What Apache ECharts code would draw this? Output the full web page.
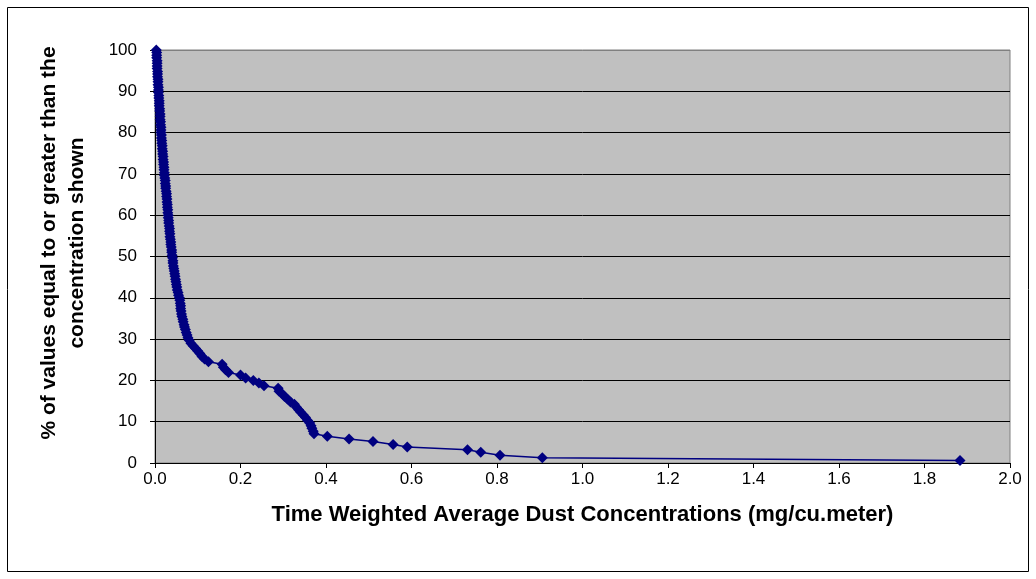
<!DOCTYPE html>
<html>
<head>
<meta charset="utf-8">
<script src="https://cdn.jsdelivr.net/npm/echarts@6/dist/echarts.min.js"></script>
<style>
html,body{margin:0;padding:0;background:#fff;}
#c{width:1036px;height:579px;}
</style>
</head>
<body>
<div id="c"></div>
<script>
// Concentration (mg/cu.meter), sorted ascending
var concentration = [
0.003,0.004,0.004,0.004,0.005,0.005,0.005,0.005,0.006,0.006,
0.006,0.007,0.007,0.007,0.008,0.008,0.008,0.009,0.009,0.010,
0.010,0.010,0.011,0.011,0.012,0.012,0.012,0.013,0.013,0.014,
0.014,0.014,0.015,0.015,0.016,0.016,0.017,0.017,0.018,0.018,
0.019,0.019,0.020,0.020,0.021,0.021,0.022,0.022,0.023,0.024,
0.024,0.025,0.025,0.026,0.027,0.027,0.028,0.028,0.029,0.029,
0.030,0.030,0.031,0.031,0.032,0.032,0.033,0.034,0.034,0.035,
0.035,0.036,0.037,0.037,0.038,0.039,0.039,0.040,0.041,0.042,
0.042,0.043,0.044,0.045,0.046,0.047,0.048,0.049,0.050,0.051,
0.052,0.054,0.055,0.057,0.058,0.059,0.060,0.060,0.061,0.062,
0.063,0.065,0.066,0.068,0.069,0.071,0.073,0.075,0.077,0.080,
0.084,0.089,0.095,0.100,0.105,0.110,0.116,0.125,0.157,0.160,
0.165,0.172,0.200,0.212,0.230,0.243,0.255,0.288,0.290,0.297,
0.303,0.310,0.317,0.326,0.331,0.336,0.341,0.347,0.352,0.357,
0.362,0.365,0.367,0.370,0.372,0.403,0.454,0.510,0.557,0.590,
0.731,0.762,0.807,0.906,1.883
];
// % of values equal to or greater than the concentration
var percentGE = [
100.0,99.4,98.7,98.1,97.4,96.8,96.1,95.5,94.8,94.2,
93.5,92.9,92.3,91.6,91.0,90.3,89.7,89.0,88.4,87.7,
87.1,86.5,85.8,85.2,84.5,83.9,83.2,82.6,81.9,81.3,
80.6,80.0,79.4,78.7,78.1,77.4,76.8,76.1,75.5,74.8,
74.2,73.5,72.9,72.3,71.6,71.0,70.3,69.7,69.0,68.4,
67.7,67.1,66.5,65.8,65.2,64.5,63.9,63.2,62.6,61.9,
61.3,60.6,60.0,59.4,58.7,58.1,57.4,56.8,56.1,55.5,
54.8,54.2,53.5,52.9,52.3,51.6,51.0,50.3,49.7,49.0,
48.4,47.7,47.1,46.5,45.8,45.2,44.5,43.9,43.2,42.6,
41.9,41.3,40.6,40.0,39.4,38.7,38.1,37.4,36.8,36.1,
35.5,34.8,34.2,33.5,32.9,32.3,31.6,31.0,30.3,29.7,
29.0,28.4,27.7,27.1,26.5,25.8,25.2,24.5,23.9,23.2,
22.6,21.9,21.3,20.6,20.0,19.4,18.7,18.1,17.4,16.8,
16.1,15.5,14.8,14.2,13.5,12.9,12.3,11.6,11.0,10.3,
9.7,9.0,8.4,7.7,7.1,6.5,5.8,5.2,4.5,3.9,
3.2,2.6,1.9,1.3,0.6
];
var xTitle = 'Time Weighted Average Dust Concentrations (mg/cu.meter)';
var yTitleLines = ['% of values equal to or greater than the', 'concentration shown'];

var points = concentration.map(function (c, i) { return [c, percentGE[i]]; });

var chart = echarts.init(document.getElementById('c'), null, {renderer: 'canvas'});
var font = 'Liberation Sans, Arial, sans-serif';
var gridColors = ['#000','#000','#000','#000','#000','#000','#000','#000','#000','#000','#808080'];
chart.setOption({
  animation: false,
  backgroundColor: '#ffffff',
  graphic: [{
    type: 'rect', silent: true, z: -1,
    shape: {x: 7.5, y: 7.5, width: 1021, height: 564},
    style: {fill: 'none', stroke: '#000000', lineWidth: 1}
  }, {
    type: 'text', silent: true, x: 49, y: 243, rotation: Math.PI / 2,
    style: {text: yTitleLines[0], font: 'bold 21px ' + font, fill: '#000',
      align: 'center', verticalAlign: 'middle'}
  }, {
    type: 'text', silent: true, x: 77, y: 243, rotation: Math.PI / 2,
    style: {text: yTitleLines[1], font: 'bold 21px ' + font, fill: '#000',
      align: 'center', verticalAlign: 'middle'}
  }],
  grid: {
    left: 155, right: 26, top: 50, bottom: 116,
    show: true, backgroundColor: '#C0C0C0', borderColor: '#808080', borderWidth: 1
  },
  xAxis: {
    type: 'value', min: 0, max: 2, interval: 0.2,
    name: xTitle, nameLocation: 'middle', nameGap: 41,
    nameTextStyle: {fontFamily: font, fontSize: 22, fontWeight: 'bold', color: '#000'},
    axisLine: {show: true, onZero: false, lineStyle: {color: '#000', width: 1}},
    axisTick: {show: true, inside: false, length: 5, lineStyle: {color: '#000'}},
    axisLabel: {fontFamily: font, fontSize: 17, color: '#000', margin: 8,
      formatter: function (v) { return v.toFixed(1); }},
    splitLine: {show: false}
  },
  yAxis: {
    type: 'value', min: 0, max: 100, interval: 10,
    axisLine: {show: true, lineStyle: {color: '#000', width: 1}},
    axisTick: {show: true, inside: false, length: 5, lineStyle: {color: '#000'}},
    axisLabel: {fontFamily: font, fontSize: 17, color: '#000', margin: 18},
    splitLine: {show: true, lineStyle: {color: gridColors, width: 1}}
  },
  series: [{
    type: 'line',
    data: points,
    symbol: 'diamond',
    symbolSize: 11,
    showAllSymbol: true,
    lineStyle: {color: '#000080', width: 1.5},
    itemStyle: {color: '#000080', borderWidth: 0},
    clip: false
  }]
});
</script>
</body>
</html>
